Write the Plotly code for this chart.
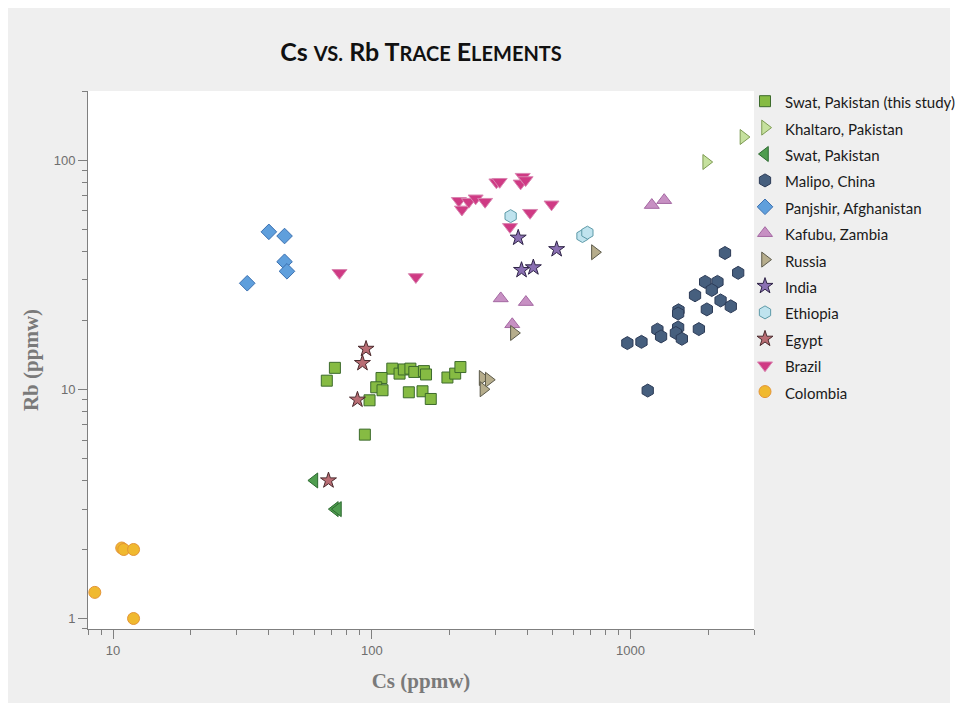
import plotly.graph_objects as go

# ---- data: Cs and Rb concentrations (ppmw) by locality ----
swat_study_cs = [72, 67, 120, 109, 128, 133, 141, 146, 159, 162, 104, 110, 98, 139, 157, 169, 196, 210, 220, 94]
swat_study_rb = [12.4, 10.9, 12.3, 11.2, 11.7, 12.2, 12.3, 11.9, 12.0, 11.6, 10.2, 9.9, 8.95, 9.7, 9.8, 9.07, 11.25, 11.7, 12.5, 6.34]

khaltaro_cs = [1960, 2730]
khaltaro_rb = [98, 126]

swat_cs = [60, 72, 74]
swat_rb = [4.0, 3.0, 3.0]

malipo_cs = [2317, 2606, 1942, 2167, 2060, 1775, 2228, 2440, 1972, 1532, 1527, 1527, 1837, 1270, 1312, 1497, 1579, 972, 1102, 1165]
malipo_rb = [39.3, 32.2, 29.4, 29.4, 27.1, 25.7, 24.4, 23.0, 22.3, 22.1, 21.4, 18.6, 18.3, 18.2, 17.0, 17.6, 16.6, 15.9, 16.1, 9.87]

panjshir_cs = [40, 46, 46, 47, 33]
panjshir_rb = [48.6, 46.6, 36.0, 32.7, 29.0]

kafubu_cs = [1208, 1349, 315, 394, 349]
kafubu_rb = [63.6, 66.8, 24.9, 24.0, 19.2]

russia_cs = [268, 283, 270, 354, 728]
russia_rb = [11.2, 11.0, 10.0, 17.6, 39.6]

india_cs = [368, 518, 379, 421]
india_rb = [45.8, 40.8, 33.1, 34.0]

ethiopia_cs = [344, 652, 681]
ethiopia_rb = [56.9, 46.6, 48.2]

egypt_cs = [95, 92, 88, 68]
egypt_rb = [15.0, 13.0, 9.0, 4.0]

brazil_cs = [75, 148, 217, 223, 237, 252, 274, 303, 312, 376, 383, 393, 409, 495, 342]
brazil_rb = [32.2, 30.9, 66.4, 60.9, 65.8, 68.1, 65.8, 80.0, 80.4, 79.1, 84.6, 81.8, 58.9, 64.1, 51.1]

colombia_cs = [8.5, 10.8, 11.0, 12.0, 12.0]
colombia_rb = [1.3, 2.03, 2.0, 2.0, 1.0]

x_major = [10, 100, 1000]
y_major = [1, 10, 100]
x_minor = [8, 9] + [v * m for m in (10, 100) for v in range(2, 10)] + [2000, 3000]
y_minor = [0.9] + [v * m for m in (1, 10) for v in range(2, 10)] + [200]

# (name, x, y, symbol, size, fill, edge)
series = [
    ("Swat, Pakistan (this study)", swat_study_cs, swat_study_rb, "square", 11, "#86bb43", "#3d6b2c"),
    ("Khaltaro, Pakistan", khaltaro_cs, khaltaro_rb, "triangle-right", 13, "#c6e19e", "#7d9b52"),
    ("Swat, Pakistan", swat_cs, swat_rb, "triangle-left", 13, "#4f9d4f", "#2d6a30"),
    ("Malipo, China", malipo_cs, malipo_rb, "hexagon", 13, "#465f7e", "#2c3b57"),
    ("Panjshir, Afghanistan", panjshir_cs, panjshir_rb, "diamond", 12, "#5f9fdc", "#3b70b0"),
    ("Kafubu, Zambia", kafubu_cs, kafubu_rb, "triangle-up", 13, "#c790c3", "#a468a2"),
    ("Russia", russia_cs, russia_rb, "triangle-right", 13, "#b6ad8c", "#5c5a4a"),
    ("India", india_cs, india_rb, "star", 12, "#8a70b2", "#2e2346"),
    ("Ethiopia", ethiopia_cs, ethiopia_rb, "hexagon", 13, "#bfe3ee", "#5d9aa8"),
    ("Egypt", egypt_cs, egypt_rb, "star", 12, "#b96d74", "#4b2a2d"),
    ("Brazil", brazil_cs, brazil_rb, "triangle-down", 13, "#cf3a84", "#d985b0"),
    ("Colombia", colombia_cs, colombia_rb, "circle", 12, "#f0b92f", "#e39436"),
]

fig = go.Figure()
for name, xs, ys, sym, size, fill, edge in series:
    fig.add_trace(go.Scatter(
        x=xs, y=ys, mode="markers",
        name="<span style='font-size:15px'>" + name + "</span>",
        marker=dict(symbol=sym, size=size, color=fill, line=dict(color=edge, width=1)),
    ))

sc = "<span style='font-size:20px'>{}</span>"
title_text = "Cs " + sc.format("VS.") + " Rb T" + sc.format("RACE") + " E" + sc.format("LEMENTS")

axis_common = dict(
    type="log",
    showgrid=False, zeroline=False,
    showline=True, linecolor="#7f7f7f", linewidth=1,
    ticks="outside", ticklen=9, tickcolor="#7f7f7f", tickwidth=1,
    tickfont=dict(family="Liberation Sans, Arial, sans-serif", size=13, color="#6e6e6e"),
    mirror=False,
)

L, R, T, B = 88, 754, 91, 629
pw, ph = float(R - L), float(B - T)

fig.update_layout(
    width=958, height=711,
    margin=dict(l=L, r=958 - R, t=T, b=711 - B, autoexpand=False),
    paper_bgcolor="#ffffff",
    plot_bgcolor="#ffffff",
    title=dict(
        text=title_text,
        x=0.5, xref="paper", xanchor="center",
        y=1 - 52 / 711, yref="container", yanchor="middle",
        font=dict(family="Lato, sans-serif", size=25, color="#111111", weight="bold"),
    ),
    xaxis=dict(
        axis_common,
        range=[0.9031, 3.4771],
        tickvals=x_major, ticktext=[str(v) for v in x_major],
        minor=dict(tickvals=x_minor, ticks="outside", ticklen=5, tickcolor="#7f7f7f"),
        title=dict(text="Cs (ppmw)", standoff=16,
                   font=dict(family="Liberation Serif, serif", size=21, color="#7a7a7a", weight="bold")),
    ),
    yaxis=dict(
        axis_common,
        range=[-0.0458, 2.30103],
        tickvals=y_major, ticktext=[str(v) for v in y_major],
        minor=dict(tickvals=y_minor, ticks="outside", ticklen=5, tickcolor="#7f7f7f"),
        title=dict(text="Rb (ppmw)", standoff=9,
                   font=dict(family="Liberation Serif, serif", size=21, color="#7a7a7a", weight="bold")),
    ),
    legend=dict(
        x=(745 - L) / pw, xanchor="left",
        y=(B - 83) / ph, yanchor="top",
        bgcolor="rgba(0,0,0,0)",
        font=dict(family="Lato, sans-serif", size=18, color="#1a1a1a"),
        tracegroupgap=0,
    ),
    showlegend=True,
)

# grey panel behind everything, with the plotting area kept white
fig.add_shape(type="rect", xref="paper", yref="paper", layer="below",
              x0=(8 - L) / pw, x1=(950 - L) / pw,
              y0=(B - 703) / ph, y1=(B - 8) / ph,
              fillcolor="#efefef", line=dict(width=0))
fig.add_shape(type="rect", xref="paper", yref="paper", layer="below",
              x0=0, x1=1, y0=0, y1=1,
              fillcolor="#ffffff", line=dict(width=0))

fig.write_html("out.html")
